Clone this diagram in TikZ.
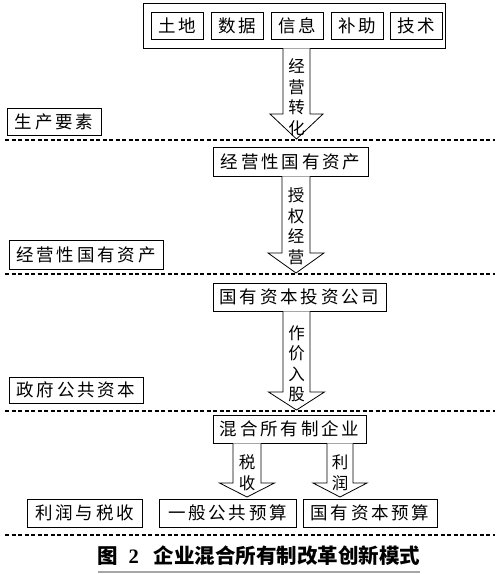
\documentclass[tikz,border=0pt]{standalone}
\usepackage{fontspec}
\setmainfont{Noto Sans CJK SC}
\newfontfamily\boxfont[LetterSpace=16]{Noto Sans CJK SC}
\newfontfamily\numfont{Liberation Serif}
\usetikzlibrary{calc}
\newcommand\blockarrow[5]{%
  \draw[barrow] let \p1=(#1), \p2=(#2) in
    (\x2-#3pt,\y1) -- (\x2-#3pt,\y2+#5pt) -- (\x2-#4pt,\y2+#5pt) -- (\x2,\y2)
    -- (\x2+#4pt,\y2+#5pt) -- (\x2+#3pt,\y2+#5pt) -- (\x2+#3pt,\y1);
}
\begin{document}
\begin{tikzpicture}[x=1pt,y=-1pt,
  box/.style={draw, line width=0.8pt, inner sep=0pt, font=\boxfont\fontsize{17.5}{20}\selectfont},
  barrow/.style={draw, line width=0.8pt, fill=white},
  alabel/.style={align=center, inner sep=0pt, font=\fontsize{16.5}{20.5}\selectfont},
  sep/.style={line width=1.2pt, dash pattern=on 4pt off 2.5pt}]
\useasboundingbox[fill=white] (0,0) rectangle (500,574);

% top group
\node[box, minimum width=302pt, minimum height=45pt] (top) at (294,25.5) {};
\node[box, minimum width=52pt, minimum height=27pt] (f1) at (177,25.5) {土地};
\node[box, minimum width=52pt, minimum height=27pt] (f2) at (237,25.5) {数据};
\node[box, minimum width=52pt, minimum height=27pt] (f3) at (297,25.5) {信息};
\node[box, minimum width=52pt, minimum height=27pt] (f4) at (357,25.5) {补助};
\node[box, minimum width=52pt, minimum height=27pt] (f5) at (416,25.5) {技术};

% level boxes
\node[box, minimum width=94pt, minimum height=27pt] (lab1) at (54,121.5) {生产要素};
\node[box, minimum width=155pt, minimum height=29pt] (mid) at (290.5,161.5) {经营性国有资产};
\node[box, minimum width=154pt, minimum height=29pt] (lab2) at (86,254.5) {经营性国有资产};
\node[box, minimum width=173pt, minimum height=28pt] (inv) at (299.5,297) {国有资本投资公司};
\node[box, minimum width=134pt, minimum height=26pt] (lab3) at (76,390) {政府公共资本};
\node[box, minimum width=153pt, minimum height=28pt] (mix) at (289.5,429) {混合所有制企业};
\node[box, minimum width=115pt, minimum height=28pt] (lab4) at (84.5,513) {利润与税收};
\node[box, minimum width=137pt, minimum height=28pt] (gen) at (227.5,513) {一般公共预算};
\node[box, minimum width=134pt, minimum height=28pt] (cap2) at (370,513) {国有资本预算};

% separators
\draw[sep] (5,140) -- (495,140);
\draw[sep] (5,274) -- (495,274);
\draw[sep] (5,411) -- (495,411);
\draw[sep] (5,535) -- (495,535);

% block arrows
\coordinate (t1) at (296.5,139);
\coordinate (t2) at (296,273);
\coordinate (t3) at (296.5,410);
\coordinate (t4) at (247,497);
\coordinate (t5) at (340,497);
\blockarrow{t1 |- top.south}{t1}{13.5}{26.5}{25}
\blockarrow{t2 |- mid.south}{t2}{14}{28}{20}
\blockarrow{t3 |- inv.south}{t3}{13.5}{28}{18}
\blockarrow{t4 |- mix.south}{t4}{14}{27.5}{14}
\blockarrow{t5 |- mix.south}{t5}{13}{27}{14}

\node[alabel] (a1) at (296.5,97) {经\\营\\转\\化};
\node[alabel] (a2) at (296,226.5) {授\\权\\经\\营};
\node[alabel] (a3) at (296.5,364) {作\\价\\入\\股};
\node[alabel] (a4) at (247,472.5) {税\\收};
\node[alabel] (a5) at (340,472.5) {利\\润};

% caption
\node[font=\bfseries\fontsize{20.5}{22}\selectfont, inner sep=0pt] (cap) at (259,556) {图\enspace{\numfont\bfseries 2}\enspace\ 企业混合所有制改革创新模式};
\draw[gray!70, line width=2.5pt] (cap.west |- 0,572) -- (cap.east |- 0,572);
\end{tikzpicture}
\end{document}
